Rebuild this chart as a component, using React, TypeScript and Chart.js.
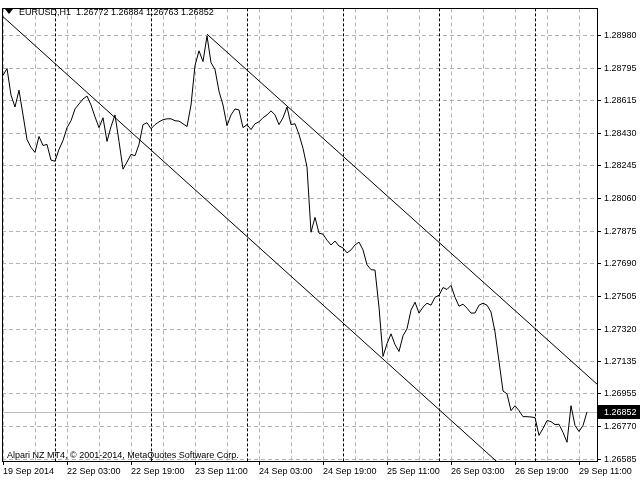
import React, { useEffect, useRef } from 'react';
import { Chart, registerables } from 'chart.js';

Chart.register(...registerables);

// ---- data ----
const headerSymbol = 'EURUSD,H1';
const headerOHLC = ['1.26772', '1.26884', '1.26763', '1.26852'];
const copyrightText = 'Alpari NZ MT4, \u00A9 2001-2014, MetaQuotes Software Corp.';

// hourly closes, bar 0 = 19 Sep 2014 11:00
const closes = [
  1.28757, 1.28796, 1.28645, 1.28578, 1.28673, 1.28533, 1.28394, 1.28349, 1.28321, 1.28411,
  1.28360, 1.28366, 1.28277, 1.28271, 1.28338, 1.28388, 1.28461, 1.28500, 1.28567, 1.28595,
  1.28623, 1.28640, 1.28589, 1.28522, 1.28461, 1.28517, 1.28383, 1.28467, 1.28533, 1.28383,
  1.28226, 1.28266, 1.28310, 1.28302, 1.28366, 1.28478, 1.28489, 1.28455, 1.28478, 1.28494,
  1.28506, 1.28511, 1.28511, 1.28500, 1.28498, 1.28483, 1.28467, 1.28589, 1.28813, 1.28896,
  1.28835, 1.28980, 1.28829, 1.28790, 1.28667, 1.28589, 1.28472, 1.28533, 1.28567, 1.28561,
  1.28461, 1.28478, 1.28450, 1.28483, 1.28494, 1.28517, 1.28533, 1.28556, 1.28533, 1.28478,
  1.28517, 1.28578, 1.28478, 1.28483, 1.28422, 1.28344, 1.28238, 1.27869, 1.27953, 1.27864,
  1.27858, 1.27824, 1.27797, 1.27819, 1.27791, 1.27780, 1.27752, 1.27769, 1.27797, 1.27813,
  1.27769, 1.27685, 1.27657, 1.27655, 1.27445, 1.27166, 1.27238, 1.27294, 1.27233, 1.27194,
  1.27283, 1.27322, 1.27428, 1.27473, 1.27411, 1.27445, 1.27467, 1.27456, 1.27501, 1.27512,
  1.27556, 1.27545, 1.27568, 1.27501, 1.27450, 1.27462, 1.27439, 1.27411, 1.27412, 1.27456,
  1.27467, 1.27456, 1.27417, 1.27305, 1.27138, 1.26970, 1.26954, 1.26859, 1.26887, 1.26859,
  1.26825, 1.26825, 1.26823, 1.26820, 1.26719, 1.26758, 1.26803, 1.26797, 1.26780, 1.26782,
  1.26736, 1.26680, 1.26887, 1.26775, 1.26741, 1.26775, 1.26852,
];

const xTickLabels = [
  '19 Sep 2014', '22 Sep 03:00', '22 Sep 19:00', '23 Sep 11:00', '24 Sep 03:00',
  '24 Sep 19:00', '25 Sep 11:00', '26 Sep 03:00', '26 Sep 19:00', '29 Sep 11:00',
];
const xGridBars = [0, 8, 16, 24, 32, 40, 48, 56, 64, 72, 80, 88, 96, 104, 112, 120, 128, 136, 144];
const daySeparatorBars = [13, 37, 61, 85, 109, 133];

const yTickValues = [
  1.26585, 1.26770, 1.26955, 1.27135, 1.27320, 1.27505, 1.27690,
  1.27875, 1.28060, 1.28245, 1.28430, 1.28615, 1.28795, 1.28980,
];
const yMin = 1.26574;
const yMax = 1.29136;
const xMin = -0.25;
const xMax = 148.5;

const upperChannel = [
  { x: 51, y: 1.2899 },
  { x: 148.5, y: 1.27009 },
];
const lowerChannel = [
  { x: 0, y: 1.29089 },
  { x: 130, y: 1.26437 },
];

const lastPrice = 1.26852;

const FONT = '"Liberation Sans", Arial, sans-serif';

const mt4Plugin = {
  id: 'mt4',
  beforeDraw(chart: any) {
    const { ctx, width, height } = chart;
    ctx.save();
    ctx.fillStyle = '#ffffff';
    ctx.fillRect(0, 0, width, height);
    ctx.restore();
  },
  beforeDatasetsDraw(chart: any) {
    const { ctx, chartArea } = chart;
    const xs = chart.scales.x;
    const ys = chart.scales.y;
    ctx.save();
    // day separators
    ctx.strokeStyle = '#000000';
    ctx.lineWidth = 1;
    ctx.setLineDash([3, 2]);
    daySeparatorBars.forEach((b) => {
      const px = Math.round(xs.getPixelForValue(b)) + 0.5;
      ctx.beginPath();
      ctx.moveTo(px, chartArea.top);
      ctx.lineTo(px, chartArea.bottom);
      ctx.stroke();
    });
    // current price line
    ctx.setLineDash([]);
    ctx.strokeStyle = '#c0c0c0';
    const py = Math.round(ys.getPixelForValue(lastPrice)) + 0.5;
    ctx.beginPath();
    ctx.moveTo(chartArea.left, py);
    ctx.lineTo(chartArea.right, py);
    ctx.stroke();
    ctx.restore();
  },
  afterDraw(chart: any) {
    const { ctx, chartArea } = chart;
    const ys = chart.scales.y;
    ctx.save();
    // plot border
    ctx.strokeStyle = '#000000';
    ctx.lineWidth = 1;
    ctx.setLineDash([]);
    ctx.strokeRect(
      Math.round(chartArea.left) + 0.5,
      Math.round(chartArea.top) + 0.5,
      Math.round(chartArea.right - chartArea.left),
      Math.round(chartArea.bottom - chartArea.top)
    );
    // header
    ctx.fillStyle = '#000000';
    ctx.beginPath();
    ctx.moveTo(5, 9);
    ctx.lineTo(13, 9);
    ctx.lineTo(9, 14);
    ctx.closePath();
    ctx.fill();
    ctx.font = '9px ' + FONT;
    ctx.textBaseline = 'alphabetic';
    ctx.textAlign = 'left';
    ctx.fillText(headerSymbol + '  ' + headerOHLC.join(' '), 19, 15);
    // copyright
    ctx.fillText(copyrightText, 7, 458);
    // price tag
    const py = Math.round(ys.getPixelForValue(lastPrice));
    ctx.fillStyle = '#000000';
    ctx.fillRect(598, py - 7, 42, 14);
    ctx.fillStyle = '#ffffff';
    ctx.textBaseline = 'middle';
    ctx.fillText(lastPrice.toFixed(5), 604, py + 0.5);
    ctx.restore();
  },
};

export default function App() {
  const ref = useRef<HTMLCanvasElement | null>(null);

  useEffect(() => {
    document.body.style.margin = '0';
    document.body.style.overflow = 'hidden';
    const canvas = ref.current;
    if (!canvas) return;
    const chart = new Chart(canvas, {
      type: 'line',
      data: {
        datasets: [
          {
            data: closes.map((c, i) => ({ x: i, y: c })),
            borderColor: '#000000',
            borderWidth: 1,
            pointRadius: 0,
            tension: 0,
            fill: false,
          },
          {
            data: upperChannel,
            borderColor: '#000000',
            borderWidth: 1,
            pointRadius: 0,
            fill: false,
          },
          {
            data: lowerChannel,
            borderColor: '#000000',
            borderWidth: 1,
            pointRadius: 0,
            fill: false,
          },
        ],
      },
      options: {
        responsive: false,
        animation: false,
        events: [],
        layout: { padding: { left: 2, top: 2, right: 0, bottom: 0 } },
        plugins: { legend: { display: false }, tooltip: { enabled: false } },
        scales: {
          x: {
            type: 'linear',
            min: xMin,
            max: xMax,
            afterBuildTicks: (s: any) => {
              s.ticks = xGridBars.map((v) => ({ value: v }));
            },
            afterFit: (s: any) => {
              s.height = 19;
            },
            grid: {
              color: '#b4b4b4',
              lineWidth: 1,
              drawTicks: true,
              tickLength: 4,
              tickColor: (c: any) => (c.tick && c.tick.value % 16 === 0 ? '#000000' : 'rgba(0,0,0,0)'),
              tickBorderDash: [],
            },
            border: { display: false, dash: [4, 3] },
            ticks: {
              autoSkip: false,
              maxRotation: 0,
              minRotation: 0,
              align: 'start',
              padding: 1,
              color: '#000000',
              font: { family: FONT, size: 9 },
              callback: (v: any) => (Number(v) % 16 === 0 ? xTickLabels[Number(v) / 16] : ''),
            },
          },
          y: {
            type: 'linear',
            position: 'right',
            min: yMin,
            max: yMax,
            afterBuildTicks: (s: any) => {
              s.ticks = yTickValues.map((v) => ({ value: v }));
            },
            afterFit: (s: any) => {
              s.width = 43;
            },
            grid: {
              color: '#b4b4b4',
              lineWidth: 1,
              drawTicks: true,
              tickLength: 4,
              tickColor: '#000000',
              tickBorderDash: [],
            },
            border: { display: false, dash: [4, 3] },
            ticks: {
              padding: 3,
              color: '#000000',
              font: { family: FONT, size: 9 },
              callback: (v: any) => Number(v).toFixed(5),
            },
          },
        },
      } as any,
      plugins: [mt4Plugin],
    });
    return () => chart.destroy();
  }, []);

  return (
    <div style={{ width: 640, height: 480 }}>
      <canvas ref={ref} width={640} height={480} style={{ display: 'block', width: 640, height: 480 }} />
    </div>
  );
}
